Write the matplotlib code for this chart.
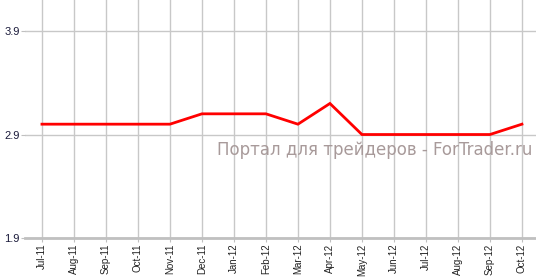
import matplotlib
matplotlib.use("Agg")
import matplotlib.pyplot as plt

months = ["Jul-11", "Aug-11", "Sep-11", "Oct-11", "Nov-11", "Dec-11", "Jan-12", "Feb-12",
          "Mar-12", "Apr-12", "May-12", "Jun-12", "Jul-12", "Aug-12", "Sep-12", "Oct-12"]
values = [3.0, 3.0, 3.0, 3.0, 3.0, 3.1, 3.1, 3.1, 3.0, 3.2, 2.9, 2.9, 2.9, 2.9, 2.9, 3.0]
yticks = [1.9, 2.9, 3.9]

fig = plt.figure(figsize=(5.36, 2.78), dpi=100)
ax = fig.add_axes([25/536, 40/278, 1 - 25/536, 238/278])
x = list(range(len(months)))
ax.plot(x, values, color="#ff0000", lw=2, zorder=3, solid_joinstyle="miter")
ax.set_xlim(-0.53, len(months) - 1 + 0.44)
ax.set_ylim(1.9, 4.2)
ax.set_xticks(x)
ax.set_xticklabels(months, rotation=90, fontsize=7, color="#222222", fontfamily="Liberation Sans")
ax.set_yticks(yticks)
ax.set_yticklabels([str(v) for v in yticks], fontsize=8, color="#1a1a3a", fontfamily="Liberation Sans")
ax.grid(True, color="#c8c8c8", lw=1)
ax.set_axisbelow(True)
for s in ["top", "right", "left"]:
    ax.spines[s].set_visible(False)
ax.spines["bottom"].set_color("#c0c0c0")
ax.spines["bottom"].set_linewidth(2)
ax.tick_params(axis="x", length=3, color="#c0c0c0", pad=1)
ax.tick_params(axis="y", length=3, color="#c0c0c0", pad=1)
ax.text(0.685, 0.37, "Портал для трейдеров - ForTrader.ru", transform=ax.transAxes,
        ha="center", va="center", fontsize=12, color="#a89a9a", fontfamily="DejaVu Sans")
fig.savefig("out.png", dpi=100)
